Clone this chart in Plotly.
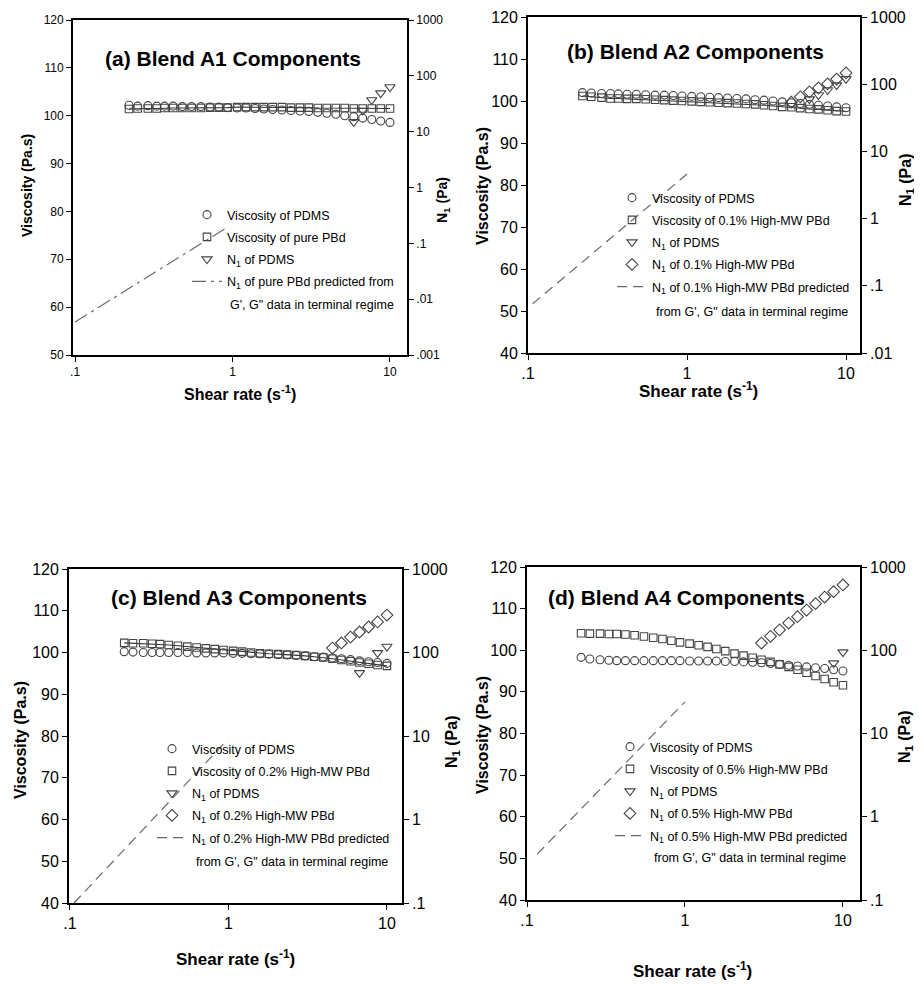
import plotly.graph_objects as go

# The page body adds an 8 px margin, so the figure is drawn 8 px smaller and
# all reference pixel positions are shifted by that offset.
OFF = 8
W, H = 922 - OFF, 984 - OFF
FONT = "Liberation Sans, Arial, sans-serif"

# ---------------- data ----------------
shear_rate = [0.22, 0.25, 0.29, 0.33, 0.37, 0.42, 0.48, 0.55, 0.63, 0.72,
              0.82, 0.93, 1.07, 1.22, 1.39, 1.58, 1.80, 2.06, 2.35, 2.68,
              3.05, 3.48, 3.97, 4.53, 5.16, 5.89, 6.71, 7.66, 8.73, 10.0]

# (a) Blend A1
a_visc_pdms = [102.2, 102.0, 102.1, 102.0, 102.0, 102.0, 101.9, 101.9, 101.9, 101.8,
               101.8, 101.7, 101.6, 101.6, 101.5, 101.4, 101.3, 101.2, 101.1, 101.0,
               100.9, 100.7, 100.5, 100.3, 100.0, 99.8, 99.5, 99.2, 98.9, 98.6]
a_visc_pbd = [101.4, 101.5, 101.5, 101.5, 101.6, 101.6, 101.6, 101.6, 101.6, 101.7,
              101.7, 101.7, 101.8, 101.8, 101.8, 101.8, 101.8, 101.8, 101.7, 101.7,
              101.7, 101.6, 101.6, 101.6, 101.6, 101.5, 101.5, 101.5, 101.5, 101.5]
a_n1_pdms_x = [5.89, 6.71, 7.66, 8.73, 10.0]
a_n1_pdms = [15, 24, 37, 49, 63]
a_pred_x = [0.10, 0.93]
a_pred = [0.0039, 0.195]

# (b) Blend A2
b_visc_pdms = [102.0, 101.9, 101.8, 101.8, 101.7, 101.6, 101.6, 101.5, 101.4, 101.4,
               101.3, 101.2, 101.1, 101.0, 100.9, 100.8, 100.7, 100.6, 100.5, 100.3,
               100.2, 100.0, 99.8, 99.6, 99.4, 99.2, 99.0, 98.8, 98.6, 98.4]
b_visc_blend = [101.2, 101.0, 100.8, 100.6, 100.6, 100.5, 100.5, 100.4, 100.3, 100.2,
                100.1, 100.0, 99.9, 99.8, 99.7, 99.6, 99.5, 99.4, 99.3, 99.2,
                99.0, 98.8, 98.6, 98.5, 98.3, 98.1, 98.0, 97.8, 97.6, 97.5]
b_n1_pdms_x = [5.89, 6.71, 7.66, 8.73, 10.0]
b_n1_pdms = [60, 69, 82, 97, 120]
b_n1_blend_x = [4.53, 5.16, 5.89, 6.71, 7.66, 8.73, 10.0]
b_n1_blend = [54, 65, 77, 88, 101, 119, 147]
b_pred_x = [0.107, 1.0]
b_pred = [0.054, 4.6]

# (c) Blend A3
c_visc_pdms = [100.2, 100.1, 100.0, 100.0, 100.0, 100.0, 100.0, 100.0, 99.9, 99.9,
               99.9, 99.9, 99.8, 99.8, 99.7, 99.7, 99.6, 99.5, 99.4, 99.3,
               99.2, 99.0, 98.9, 98.7, 98.5, 98.3, 98.0, 97.8, 97.6, 97.4]
c_visc_blend = [102.3, 102.2, 102.2, 102.1, 102.0, 101.8, 101.6, 101.4, 101.2, 101.0,
                100.8, 100.6, 100.4, 100.2, 100.0, 99.8, 99.7, 99.6, 99.5, 99.4,
                99.2, 99.0, 98.8, 98.5, 98.2, 97.9, 97.6, 97.3, 97.0, 96.8]
c_n1_pdms_x = [6.71, 8.73, 10.0]
c_n1_pdms = [57, 99, 118]
c_n1_blend_x = [4.53, 5.16, 5.89, 6.71, 7.66, 8.73, 10.0]
c_n1_blend = [113, 130, 153, 176, 202, 232, 281]
c_pred_x = [0.106, 0.98]
c_pred = [0.10, 8.9]

# (d) Blend A4
d_visc_pdms = [98.3, 97.9, 97.7, 97.6, 97.5, 97.5, 97.5, 97.5, 97.5, 97.5,
               97.5, 97.5, 97.4, 97.4, 97.4, 97.4, 97.3, 97.3, 97.2, 97.1,
               97.0, 96.8, 96.6, 96.4, 96.2, 96.0, 95.8, 95.6, 95.3, 95.0]
d_visc_blend = [104.1, 104.0, 104.0, 103.9, 103.9, 103.8, 103.6, 103.3, 103.0, 102.7,
                102.3, 101.9, 101.6, 101.2, 100.8, 100.3, 99.8, 99.2, 98.7, 98.2,
                97.7, 97.2, 96.6, 96.0, 95.3, 94.6, 93.8, 93.1, 92.3, 91.6]
d_n1_pdms_x = [8.73, 10.0]
d_n1_pdms = [70, 95]
d_n1_blend_x = [3.05, 3.48, 3.97, 4.53, 5.16, 5.89, 6.71, 7.66, 8.73, 10.0]
d_n1_blend = [122, 147, 176, 212, 253, 304, 363, 436, 506, 608]
d_pred_x = [0.116, 1.0]
d_pred = [0.355, 24]

x_tick_vals = [0.1, 1, 10]
x_tick_text = [".1", "1", "10"]
n1_tick_vals = [0.001, 0.01, 0.1, 1, 10, 100, 1000]
n1_tick_text = [".001", ".01", ".1", "1", "10", "100", "1000"]

# ---------------- layout helpers ----------------
def px(x):
    return (x - OFF) / W

def py(y):
    return 1 - (y - OFF) / H

MK = "#444444"
fig = go.Figure()

panels = [
    dict(key="a", title="(a) Blend A1 Components",
         box=(73, 407, 20, 355), xr=(-1.013, 1.108), yl=(50, 120), yr=(-3, 3),
         tick=12, lab=14, title_xy=(233, 58), ylab=(27, 186), yrlab=(443, 200), xlab=(240, 393),
         legend=(187, 200), cont=(228, 305),
         cont_text="G', G\" data in terminal regime",
         pdms=a_visc_pdms, blend=a_visc_pbd, blend_name="Viscosity of pure PBd",
         n1p=(a_n1_pdms_x, a_n1_pdms), n1b=None,
         pred=(a_pred_x, a_pred), pred_name="N<sub>1</sub> of pure PBd predicted from",
         dash="14px,5px,3px,5px", lines=True),
    dict(key="b", title="(b) Blend A2 Components",
         box=(528, 860, 17, 353), xr=(-1.0, 1.088), yl=(40, 120), yr=(-2, 3),
         tick=16, lab=16, title_xy=(695, 52), ylab=(483, 186), yrlab=(906, 180), xlab=(698, 390),
         legend=(612, 183), cont=(654, 312),
         cont_text="from G', G\" data in terminal regime",
         pdms=b_visc_pdms, blend=b_visc_blend, blend_name="Viscosity of 0.1% High-MW PBd",
         n1p=(b_n1_pdms_x, b_n1_pdms), n1b=(b_n1_blend_x, b_n1_blend),
         n1b_name="N<sub>1</sub> of 0.1% High-MW PBd",
         pred=(b_pred_x, b_pred), pred_name="N<sub>1</sub> of 0.1% High-MW PBd predicted",
         dash="10px,6px", lines=True),
    dict(key="c", title="(c) Blend A3 Components",
         box=(69, 402, 569, 903), xr=(-1.006, 1.095), yl=(40, 120), yr=(-1, 3),
         tick=16, lab=16, title_xy=(239, 597), ylab=(20, 740), yrlab=(452, 742), xlab=(235, 958),
         legend=(152, 734), cont=(194, 862),
         cont_text="from G', G\" data in terminal regime",
         pdms=c_visc_pdms, blend=c_visc_blend, blend_name="Viscosity of 0.2% High-MW PBd",
         n1p=(c_n1_pdms_x, c_n1_pdms), n1b=(c_n1_blend_x, c_n1_blend),
         n1b_name="N<sub>1</sub> of 0.2% High-MW PBd",
         pred=(c_pred_x, c_pred), pred_name="N<sub>1</sub> of 0.2% High-MW PBd predicted",
         dash="10px,6px", lines=True),
    dict(key="d", title="(d) Blend A4 Components",
         box=(527, 860, 567, 900), xr=(-1.0, 1.108), yl=(40, 120), yr=(-1, 3),
         tick=16, lab=16, title_xy=(676, 597), ylab=(482, 735), yrlab=(905, 737), xlab=(692, 970),
         legend=(610, 732), cont=(652, 858),
         cont_text="from G', G\" data in terminal regime",
         pdms=d_visc_pdms, blend=d_visc_blend, blend_name="Viscosity of 0.5% High-MW PBd",
         n1p=(d_n1_pdms_x, d_n1_pdms), n1b=(d_n1_blend_x, d_n1_blend),
         n1b_name="N<sub>1</sub> of 0.5% High-MW PBd",
         pred=(d_pred_x, d_pred), pred_name="N<sub>1</sub> of 0.5% High-MW PBd predicted",
         dash="10px,6px", lines=False),
]

annotations = []
layout = {}

for i, p in enumerate(panels):
    n = i + 1
    xa = "x" if n == 1 else f"x{n}"
    yl_id = 2 * n - 1
    yr_id = 2 * n
    yla = "y" if yl_id == 1 else f"y{yl_id}"
    yra = f"y{yr_id}"
    leg = "legend" if n == 1 else f"legend{n}"
    x0, x1, y0, y1 = p["box"]

    axis_common = dict(showline=True, linecolor="black", linewidth=1.8,
                       ticks="outside", ticklen=5, tickcolor="black",
                       showgrid=False, zeroline=False, automargin=False,
                       tickfont=dict(family=FONT, size=p["tick"], color="black"))

    layout["xaxis" if n == 1 else f"xaxis{n}"] = dict(
        domain=[px(x0), px(x1)], anchor=yla, type="log", range=list(p["xr"]),
        tickvals=x_tick_vals, ticktext=x_tick_text, mirror=True, **axis_common)
    layout["yaxis" if yl_id == 1 else f"yaxis{yl_id}"] = dict(
        domain=[py(y1), py(y0)], anchor=xa, range=list(p["yl"]), dtick=10, **axis_common)
    lo, hi = p["yr"]
    tv = [v for v in n1_tick_vals if 10 ** lo <= v * 1.0001 and v <= 10 ** hi * 1.0001]
    tt = [n1_tick_text[n1_tick_vals.index(v)] for v in tv]
    layout[f"yaxis{yr_id}"] = dict(
        overlaying=yla, side="right", anchor=xa, type="log", range=[lo, hi],
        tickvals=tv, ticktext=tt, **axis_common)

    lx, ly = p["legend"]
    layout[leg] = dict(x=px(lx), y=py(ly), xanchor="left", yanchor="top",
                       bgcolor="rgba(0,0,0,0)", borderwidth=0, tracegroupgap=3,
                       font=dict(family=FONT, size=12.5, color="black"))

    g = p["key"]
    if p["lines"]:
        fig.add_trace(go.Scatter(x=shear_rate, y=p["blend"], mode="lines",
                                 line=dict(color="#333333", width=1.1),
                                 xaxis=xa, yaxis=yla, showlegend=False, hoverinfo="skip"))
    fig.add_trace(go.Scatter(x=shear_rate, y=p["pdms"], mode="markers", name="Viscosity of PDMS",
                             marker=dict(symbol="circle-open", size=8, color=MK, line=dict(width=1.1)),
                             xaxis=xa, yaxis=yla, legend=leg, legendgroup=g + "1"))
    fig.add_trace(go.Scatter(x=shear_rate, y=p["blend"], mode="markers", name=p["blend_name"],
                             marker=dict(symbol="square-open", size=7.5, color=MK, line=dict(width=1.1)),
                             xaxis=xa, yaxis=yla, legend=leg, legendgroup=g + "2"))
    fig.add_trace(go.Scatter(x=p["n1p"][0], y=p["n1p"][1], mode="markers",
                             name="N<sub>1</sub> of PDMS",
                             marker=dict(symbol="triangle-down-open", size=9, color=MK, line=dict(width=1.1)),
                             xaxis=xa, yaxis=yra, legend=leg, legendgroup=g + "3"))
    if p["n1b"] is not None:
        fig.add_trace(go.Scatter(x=p["n1b"][0], y=p["n1b"][1], mode="markers", name=p["n1b_name"],
                                 marker=dict(symbol="diamond-open", size=9, color=MK, line=dict(width=1.1)),
                                 xaxis=xa, yaxis=yra, legend=leg, legendgroup=g + "4"))
    fig.add_trace(go.Scatter(x=p["pred"][0], y=p["pred"][1], mode="lines", name=p["pred_name"],
                             line=dict(color="#6a6a6a", width=1.2, dash=p["dash"]),
                             xaxis=xa, yaxis=yra, legend=leg, legendgroup=g + "5"))

    cx, cy = p["cont"]
    annotations.append(dict(x=px(cx), y=py(cy), xref="paper", yref="paper", xanchor="left",
                            yanchor="middle", showarrow=False, text=p["cont_text"],
                            font=dict(family=FONT, size=12.5, color="black")))
    tx, ty = p["title_xy"]
    annotations.append(dict(x=px(tx), y=py(ty), xref="paper", yref="paper", xanchor="center",
                            yanchor="middle", showarrow=False, text="<b>" + p["title"] + "</b>",
                            font=dict(family=FONT, size=21, color="black")))
    ax_, ay_ = p["ylab"]
    annotations.append(dict(x=px(ax_), y=py(ay_), xref="paper", yref="paper", xanchor="center",
                            yanchor="middle", showarrow=False, textangle=-90,
                            text="<b>Viscosity (Pa.s)</b>",
                            font=dict(family=FONT, size=p["lab"], color="black")))
    rx, ry = p["yrlab"]
    annotations.append(dict(x=px(rx), y=py(ry), xref="paper", yref="paper", xanchor="center",
                            yanchor="middle", showarrow=False, textangle=-90,
                            text="<b>N<sub>1</sub> (Pa)</b>",
                            font=dict(family=FONT, size=p["lab"], color="black")))
    bx, by = p["xlab"]
    annotations.append(dict(x=px(bx), y=py(by), xref="paper", yref="paper", xanchor="center",
                            yanchor="middle", showarrow=False,
                            text="<b>Shear rate (s<sup>-1</sup>)</b>",
                            font=dict(family=FONT, size=17 if p["key"] != "a" else 16, color="black")))

fig.update_layout(width=W, height=H, margin=dict(l=0, r=0, t=0, b=0, autoexpand=False),
                  paper_bgcolor="white", plot_bgcolor="white",
                  annotations=annotations, **layout)

fig.write_html("out.html")
